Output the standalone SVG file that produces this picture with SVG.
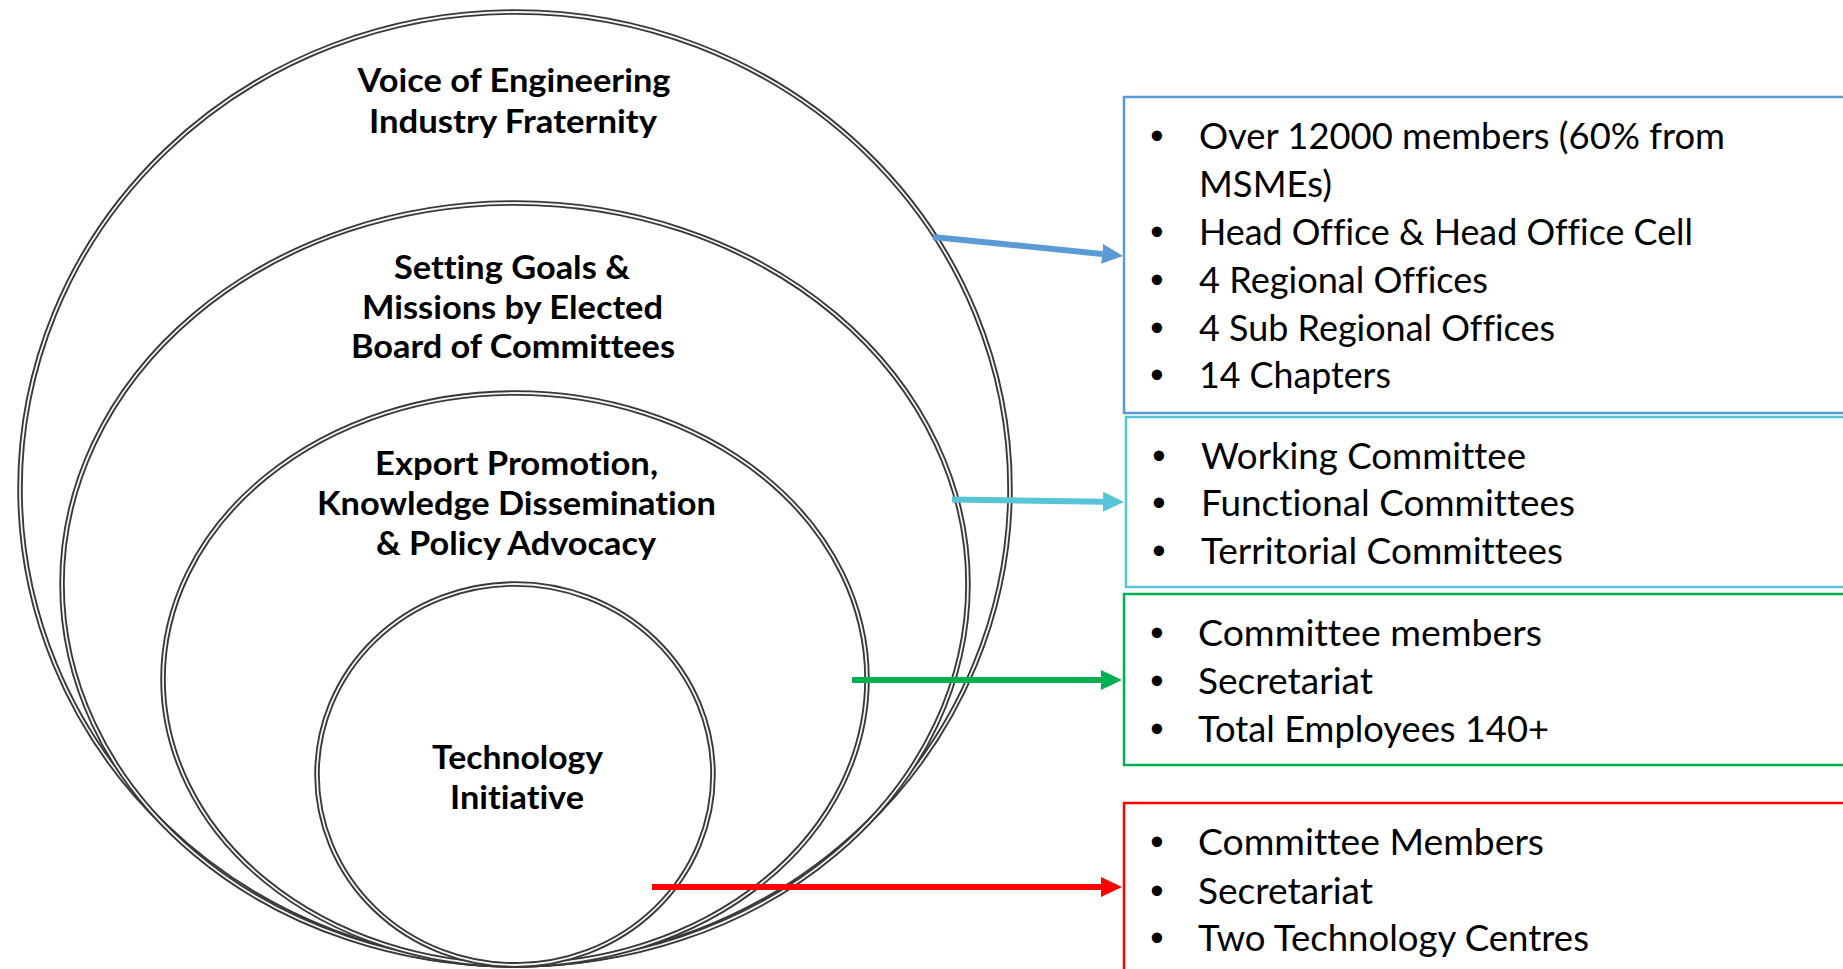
<svg xmlns="http://www.w3.org/2000/svg" width="1843" height="969" viewBox="0 0 1843 969">
<style>
.ring-o{fill:none;stroke:#383838;stroke-width:5.5}
.ring-i{fill:none;stroke:#f4f4f4;stroke-width:1.8}
.head{font-family:Lato,"Open Sans","Liberation Sans",sans-serif;font-weight:bold;font-size:31.5px;fill:#000;text-anchor:middle;font-variant-ligatures:none}
.item{font-family:Lato,"Open Sans","Liberation Sans",sans-serif;font-size:36px;fill:#000;font-variant-ligatures:none}
.bul{font-family:"Liberation Sans",Arial,sans-serif;font-size:38px;fill:#000;text-anchor:middle}
.box{fill:none;stroke-width:2.5}
.conn{fill:none;stroke-width:6}
</style>
<defs>
<marker id="ah-blue" markerUnits="userSpaceOnUse" viewBox="0 0 21 20" refX="0" refY="10" markerWidth="21" markerHeight="20" orient="auto"><path d="M0,0 L21,10 L0,20 Z" fill="#5B9BD5"/></marker>
<marker id="ah-cyan" markerUnits="userSpaceOnUse" viewBox="0 0 21 20" refX="0" refY="10" markerWidth="21" markerHeight="20" orient="auto"><path d="M0,0 L21,10 L0,20 Z" fill="#56C5D8"/></marker>
<marker id="ah-green" markerUnits="userSpaceOnUse" viewBox="0 0 21 20" refX="0" refY="10" markerWidth="21" markerHeight="20" orient="auto"><path d="M0,0 L21,10 L0,20 Z" fill="#00B050"/></marker>
<marker id="ah-red" markerUnits="userSpaceOnUse" viewBox="0 0 21 20" refX="0" refY="10" markerWidth="21" markerHeight="20" orient="auto"><path d="M0,0 L21,10 L0,20 Z" fill="#FF0000"/></marker>
</defs>
<rect width="1843" height="969" fill="#fff"/>

<g id="ring-voice">
<ellipse class="ring-o" cx="515" cy="488.5" rx="495" ry="476.5"/>
<ellipse class="ring-i" cx="515" cy="488.5" rx="495" ry="476.5"/>
<text class="head" x="514" y="92" textLength="313" lengthAdjust="spacingAndGlyphs">Voice of Engineering</text>
<text class="head" x="513" y="133" textLength="288" lengthAdjust="spacingAndGlyphs">Industry Fraternity</text>
</g>
<g id="ring-goals">
<ellipse class="ring-o" cx="515" cy="584" rx="453" ry="381"/>
<ellipse class="ring-i" cx="515" cy="584" rx="453" ry="381"/>
<text class="head" x="512" y="279" textLength="236" lengthAdjust="spacingAndGlyphs">Setting Goals &amp;</text>
<text class="head" x="512.5" y="319" textLength="301" lengthAdjust="spacingAndGlyphs">Missions by Elected</text>
<text class="head" x="513" y="358" textLength="324" lengthAdjust="spacingAndGlyphs">Board of Committees</text>
</g>
<g id="ring-export">
<ellipse class="ring-o" cx="515" cy="679" rx="352" ry="286"/>
<ellipse class="ring-i" cx="515" cy="679" rx="352" ry="286"/>
<text class="head" x="516.5" y="475" textLength="283" lengthAdjust="spacingAndGlyphs">Export Promotion,</text>
<text class="head" x="516.5" y="515" textLength="399" lengthAdjust="spacingAndGlyphs">Knowledge Dissemination</text>
<text class="head" x="516" y="555" textLength="280" lengthAdjust="spacingAndGlyphs">&amp; Policy Advocacy</text>
</g>
<g id="ring-tech">
<ellipse class="ring-o" cx="515" cy="774.5" rx="198" ry="190.5"/>
<ellipse class="ring-i" cx="515" cy="774.5" rx="198" ry="190.5"/>
<text class="head" x="517.5" y="769" textLength="171" lengthAdjust="spacingAndGlyphs">Technology</text>
<text class="head" x="517" y="809" textLength="134" lengthAdjust="spacingAndGlyphs">Initiative</text>
</g>

<g id="box-members">
<rect class="box" stroke="#5B9BD5" x="1124" y="97" width="730" height="316"/>
<text class="bul" x="1157" y="149">•</text>
<text class="item" x="1199" y="149" textLength="526" lengthAdjust="spacingAndGlyphs">Over 12000 members (60% from</text>
<text class="item" x="1199" y="197" textLength="133" lengthAdjust="spacingAndGlyphs">MSMEs)</text>
<text class="bul" x="1157" y="245">•</text>
<text class="item" x="1199" y="245" textLength="494" lengthAdjust="spacingAndGlyphs">Head Office &amp; Head Office Cell</text>
<text class="bul" x="1157" y="293">•</text>
<text class="item" x="1199" y="293" textLength="289" lengthAdjust="spacingAndGlyphs">4 Regional Offices</text>
<text class="bul" x="1157" y="341">•</text>
<text class="item" x="1199" y="341" textLength="356" lengthAdjust="spacingAndGlyphs">4 Sub Regional Offices</text>
<text class="bul" x="1157" y="388">•</text>
<text class="item" x="1199" y="388" textLength="192" lengthAdjust="spacingAndGlyphs">14 Chapters</text>
</g>
<g id="box-committees">
<rect class="box" stroke="#56C5D8" x="1126" y="417" width="730" height="170"/>
<text class="bul" x="1159" y="469">•</text>
<text class="item" x="1201" y="469" textLength="325" lengthAdjust="spacingAndGlyphs">Working Committee</text>
<text class="bul" x="1159" y="516">•</text>
<text class="item" x="1201" y="516" textLength="374" lengthAdjust="spacingAndGlyphs">Functional Committees</text>
<text class="bul" x="1159" y="564">•</text>
<text class="item" x="1201" y="564" textLength="362" lengthAdjust="spacingAndGlyphs">Territorial Committees</text>
</g>
<g id="box-staff">
<rect class="box" stroke="#00B050" x="1124" y="594" width="730" height="171"/>
<text class="bul" x="1157" y="646">•</text>
<text class="item" x="1198" y="646" textLength="344" lengthAdjust="spacingAndGlyphs">Committee members</text>
<text class="bul" x="1157" y="694">•</text>
<text class="item" x="1198" y="694" textLength="175" lengthAdjust="spacingAndGlyphs">Secretariat</text>
<text class="bul" x="1157" y="742">•</text>
<text class="item" x="1198" y="742" textLength="351" lengthAdjust="spacingAndGlyphs">Total Employees 140+</text>
</g>
<g id="box-tech">
<rect class="box" stroke="#FF0000" x="1124" y="803" width="730" height="200"/>
<text class="bul" x="1157" y="855">•</text>
<text class="item" x="1198" y="855" textLength="346" lengthAdjust="spacingAndGlyphs">Committee Members</text>
<text class="bul" x="1157" y="904">•</text>
<text class="item" x="1198" y="904" textLength="175" lengthAdjust="spacingAndGlyphs">Secretariat</text>
<text class="bul" x="1157" y="951">•</text>
<text class="item" x="1198" y="951" textLength="391" lengthAdjust="spacingAndGlyphs">Two Technology Centres</text>
</g>

<g id="connectors">
<line class="conn" stroke="#5B9BD5" x1="933" y1="237" x2="1102.1" y2="253.9" marker-end="url(#ah-blue)"/>
<line class="conn" stroke="#56C5D8" x1="952" y1="499.5" x2="1103" y2="501.7" marker-end="url(#ah-cyan)"/>
<line class="conn" stroke="#00B050" x1="852" y1="680" x2="1101" y2="680" marker-end="url(#ah-green)"/>
<line class="conn" stroke="#FF0000" x1="652" y1="887" x2="1101" y2="887" marker-end="url(#ah-red)"/>
</g>
</svg>
